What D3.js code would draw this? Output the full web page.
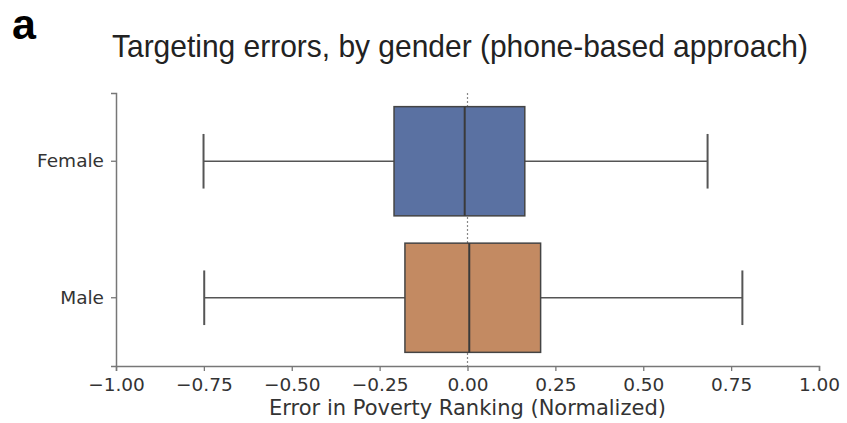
<!DOCTYPE html>
<html>
<head>
<meta charset="utf-8">
<script src="https://cdn.jsdelivr.net/npm/d3@7"></script>
<style>
  body { margin: 0; background: #fff; }
  text { font-family: "DejaVu Sans", sans-serif; }
</style>
</head>
<body>
<svg id="chart" width="847" height="423"></svg>
<script>
// data
const groups = ["Female", "Male"];
const whiskerLow = [-0.751, -0.749];
const q1 = [-0.209, -0.178];
const median = [-0.008, 0.005];
const q3 = [0.163, 0.208];
const whiskerHigh = [0.683, 0.782];
const boxColors = ["#5a71a2", "#c38a62"];
const xTicks = [-1.0, -0.75, -0.5, -0.25, 0.0, 0.25, 0.5, 0.75, 1.0];

const svg = d3.select("#chart");
const margin = { top: 93, right: 28, bottom: 57, left: 116 };
const width = +svg.attr("width") - margin.left - margin.right;
const height = +svg.attr("height") - margin.top - margin.bottom;
const chartArea = svg.append("g").attr("transform", `translate(${margin.left},${margin.top})`);

const xScale = d3.scaleLinear()
    .domain([-1, 1])
    .range([0, width]);

const yScale = d3.scaleBand()
    .domain(groups)
    .range([0, height])
    .paddingInner(0.2)
    .paddingOuter(0.1);

// panel letter and title
svg.append("text")
    .attr("x", 12)
    .attr("y", 39)
    .style("font-family", "Liberation Sans, Arial, sans-serif")
    .style("font-weight", "bold")
    .style("font-size", "43px")
    .text("a");

svg.append("text")
    .attr("x", 112)
    .attr("y", 57)
    .attr("textLength", 696)
    .attr("lengthAdjust", "spacingAndGlyphs")
    .style("font-family", "Liberation Sans, Arial, sans-serif")
    .style("font-size", "30.5px")
    .attr("fill", "#222")
    .text("Targeting  errors, by gender (phone-based approach)");

// axes
const xAxis = d3.axisBottom(xScale).tickValues(xTicks).tickFormat(d => d3.format(".2f")(d).replace("-", "\u2212")).tickSizeOuter(0).tickSize(5).tickPadding(7);
const yAxis = d3.axisLeft(yScale).tickSizeOuter(0).tickSize(5).tickPadding(7);

const gx = chartArea.append("g")
    .attr("transform", `translate(0,${height})`)
    .call(xAxis);
gx.select(".domain").attr("stroke", "#777").attr("stroke-width", 1.5);
gx.selectAll(".tick line").attr("stroke", "#777").attr("stroke-width", 1.3);
gx.selectAll(".tick text").style("font-size", "18.5px").attr("fill", "#333");

const gy = chartArea.append("g").call(yAxis);
gy.select(".domain").attr("stroke", "#777").attr("stroke-width", 1.5);
gy.selectAll(".tick line").attr("stroke", "#777").attr("stroke-width", 1.3);
gy.selectAll(".tick text").style("font-size", "18.5px").attr("fill", "#333");

svg.append("text")
    .attr("x", margin.left + xScale(0))
    .attr("y", 415)
    .attr("text-anchor", "middle")
    .style("font-size", "21px")
    .attr("fill", "#333")
    .text("Error in Poverty Ranking (Normalized)");

// zero reference line
chartArea.append("line")
    .attr("x1", xScale(0))
    .attr("x2", xScale(0))
    .attr("y1", 0)
    .attr("y2", height)
    .attr("stroke", "#888")
    .attr("stroke-width", 1.2)
    .attr("stroke-dasharray", "2,2");

// boxes
groups.forEach((g, i) => {
    const y0 = yScale(g);
    const bw = yScale.bandwidth();
    const cy = y0 + bw / 2;
    const capHalf = bw / 4;
    const box = chartArea.append("g");

    box.append("line")
        .attr("x1", xScale(whiskerLow[i])).attr("x2", xScale(q1[i]))
        .attr("y1", cy).attr("y2", cy)
        .attr("stroke", "#555").attr("stroke-width", 1.5);
    box.append("line")
        .attr("x1", xScale(q3[i])).attr("x2", xScale(whiskerHigh[i]))
        .attr("y1", cy).attr("y2", cy)
        .attr("stroke", "#555").attr("stroke-width", 1.5);

    [whiskerLow[i], whiskerHigh[i]].forEach(v => {
        box.append("line")
            .attr("x1", xScale(v)).attr("x2", xScale(v))
            .attr("y1", cy - capHalf).attr("y2", cy + capHalf)
            .attr("stroke", "#555").attr("stroke-width", 2);
    });

    box.append("rect")
        .attr("x", xScale(q1[i]))
        .attr("y", y0)
        .attr("width", xScale(q3[i]) - xScale(q1[i]))
        .attr("height", bw)
        .attr("fill", boxColors[i])
        .attr("stroke", "#444")
        .attr("stroke-width", 1.5);

    box.append("line")
        .attr("x1", xScale(median[i])).attr("x2", xScale(median[i]))
        .attr("y1", y0).attr("y2", y0 + bw)
        .attr("stroke", "#3a3a3a").attr("stroke-width", 2);
});
</script>
</body>
</html>
